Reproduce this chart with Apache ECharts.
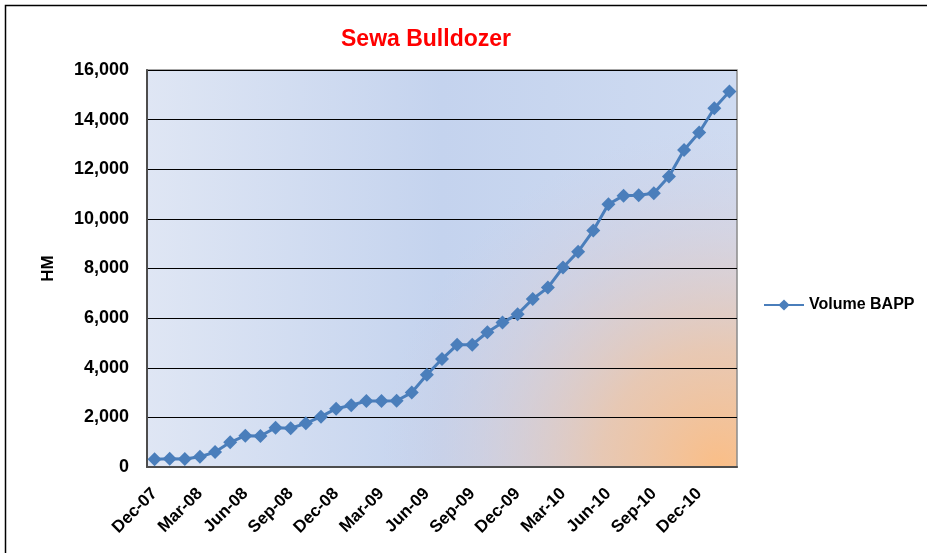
<!DOCTYPE html>
<html>
<head>
<meta charset="utf-8">
<script src="https://cdn.jsdelivr.net/npm/echarts@6/dist/echarts.min.js"></script>
<style>
  html, body { margin: 0; padding: 0; background: #fff; }
  #chart { width: 927px; height: 553px; }
</style>
</head>
<body>
<div id="chart"></div>
<script>
// monthly categories, Dec-07 .. Feb-11
var months = [
  'Dec-07', 'Jan-08', 'Feb-08', 'Mar-08', 'Apr-08', 'May-08', 'Jun-08', 'Jul-08',
  'Aug-08', 'Sep-08', 'Oct-08', 'Nov-08', 'Dec-08', 'Jan-09', 'Feb-09', 'Mar-09',
  'Apr-09', 'May-09', 'Jun-09', 'Jul-09', 'Aug-09', 'Sep-09', 'Oct-09', 'Nov-09',
  'Dec-09', 'Jan-10', 'Feb-10', 'Mar-10', 'Apr-10', 'May-10', 'Jun-10', 'Jul-10',
  'Aug-10', 'Sep-10', 'Oct-10', 'Nov-10', 'Dec-10', 'Jan-11', 'Feb-11'
];
var volumeBAPP = [
  310, 330, 320, 415, 600, 995, 1260, 1250,
  1585, 1560, 1760, 2030, 2350, 2490, 2660, 2660,
  2670, 3000, 3720, 4350, 4925, 4930, 5430, 5820,
  6160, 6770, 7230, 8040, 8680, 9530, 10590, 10935,
  10950, 11030, 11710, 12780, 13480, 14460, 15130
];
var yTicks = [0, 2000, 4000, 6000, 8000, 10000, 12000, 14000, 16000];

var plot = { left: 147, top: 70, width: 590, height: 397 };
var font = 'Arial, "Liberation Sans", sans-serif';

var chart = echarts.init(document.getElementById('chart'));
chart.setOption({
  backgroundColor: '#fff',
  animation: false,
  title: {
    text: 'Sewa Bulldozer',
    left: 336,
    top: 23,
    textStyle: { color: '#ff0000', fontSize: 23, fontWeight: 'bold', fontFamily: font }
  },
  legend: {
    left: 758,
    top: 292,
    itemWidth: 40,
    itemHeight: 14,
    textStyle: { color: '#000', fontSize: 16, fontWeight: 'bold', fontFamily: font },
    data: ['Volume BAPP']
  },
  graphic: [
    // outer chart border (runs off the right/bottom edges)
    {
      type: 'rect', z: -10, silent: true,
      shape: { x: 5.5, y: 5.5, width: 1000, height: 1000 },
      style: { fill: 'none', stroke: '#000', lineWidth: 1.5 }
    },
    // plot area fill: blue base
    {
      type: 'rect', z: -5, silent: true,
      shape: { x: plot.left, y: plot.top, width: plot.width, height: plot.height },
      style: {
        fill: new echarts.graphic.LinearGradient(0, 0, 1, 0, [
          { offset: 0, color: '#dfe6f4' },
          { offset: 0.5, color: '#c4d3ee' },
          { offset: 1, color: '#cfdbf1' }
        ])
      }
    },
    // orange glow from the bottom-right corner
    {
      type: 'rect', z: -4, silent: true,
      shape: { x: plot.left, y: plot.top, width: plot.width, height: plot.height },
      style: {
        fill: new echarts.graphic.RadialGradient(0.97, 1, 0.85, [
          { offset: 0, color: 'rgba(250,190,135,1)' },
          { offset: 0.35, color: 'rgba(238,196,165,0.8)' },
          { offset: 0.7, color: 'rgba(222,200,200,0.35)' },
          { offset: 1, color: 'rgba(210,205,225,0)' }
        ])
      }
    }
  ],
  grid: {
    left: plot.left,
    top: plot.top,
    width: plot.width,
    height: plot.height,
    show: true,
    borderColor: '#8a8a8a',
    borderWidth: 1.5,
    backgroundColor: 'transparent'
  },
  xAxis: {
    type: 'category',
    data: months,
    boundaryGap: true,
    axisLine: { lineStyle: { color: '#4d4d4d', width: 2 } },
    axisTick: { show: false },
    axisLabel: {
      interval: 2,
      rotate: 45,
      margin: 24,
      color: '#000',
      fontSize: 17,
      fontWeight: 'bold',
      fontFamily: font
    },
    splitLine: { show: false }
  },
  yAxis: {
    type: 'value',
    min: yTicks[0],
    max: yTicks[yTicks.length - 1],
    interval: 2000,
    name: 'HM',
    nameLocation: 'middle',
    nameGap: 90,
    nameRotate: 90,
    nameTextStyle: { color: '#000', fontSize: 17, fontWeight: 'bold', fontFamily: font },
    axisLine: { show: true, lineStyle: { color: '#4d4d4d', width: 2 } },
    axisTick: { show: false },
    axisLabel: {
      margin: 18,
      color: '#000',
      fontSize: 18,
      fontWeight: 'bold',
      fontFamily: font,
      formatter: function (v) { return v.toLocaleString('en-US'); }
    },
    splitLine: { lineStyle: { color: '#000', width: 1 } }
  },
  series: [
    {
      name: 'Volume BAPP',
      type: 'line',
      data: volumeBAPP,
      symbol: 'diamond',
      symbolSize: 14,
      showAllSymbol: true,
      lineStyle: { color: '#4a7ebb', width: 3 },
      itemStyle: { color: '#4a7ebb' }
    }
  ]
});
</script>
</body>
</html>
